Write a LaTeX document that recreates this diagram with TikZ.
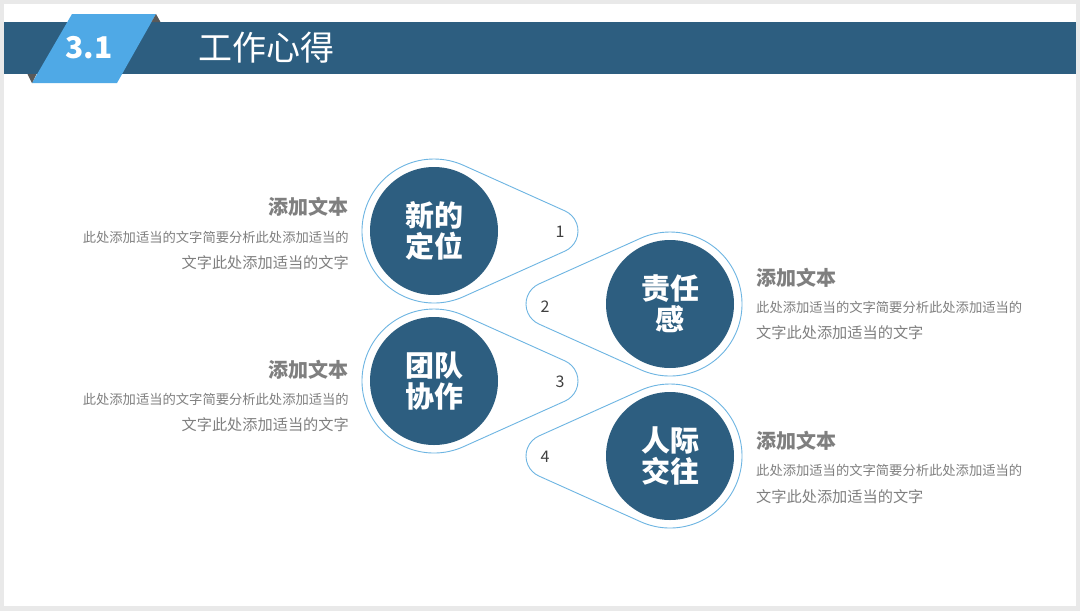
\documentclass[tikz,border=0pt]{standalone}
\usepackage{fontspec}
\newfontfamily\cjk{Noto Sans CJK SC}
\definecolor{darkblue}{HTML}{2D5E80}
\definecolor{lightblue}{HTML}{4FA9E6}
\definecolor{lineblue}{HTML}{6DB5E2}
\definecolor{txtgray}{HTML}{7F7F7F}
\definecolor{numgray}{HTML}{404040}
\definecolor{bggray}{HTML}{E9E9E9}
\tikzset{
  tear/.style={draw=lineblue, line width=0.9pt, fill=white},
  disc/.style={circle, fill=darkblue, minimum size=128pt, inner sep=0pt, text=white,
    font=\cjk\bfseries\fontsize{29}{31}\selectfont, align=center},
  numlab/.style={text=numgray, font=\cjk\fontsize{16}{18}\selectfont},
  headl/.style={text=txtgray, font=\cjk\bfseries\fontsize{20}{22}\selectfont, inner sep=0pt},
  bodyl/.style={text=txtgray, font=\cjk\fontsize{13.3}{16}\selectfont, inner sep=0pt},
  bodyll/.style={text=txtgray, font=\cjk\fontsize{15.2}{18}\selectfont, inner sep=0pt},
}
\newcommand\teardrop[3]{%
  \path[tear, shift={(#1,#2)}, xscale=#3]
    (65.81:72) arc[start angle=65.81, end angle=294.19, radius=72]
    -- ([shift={(122,0)}]-65.81:22) arc[start angle=-65.81, end angle=65.81, radius=22]
    -- cycle;}
\begin{document}
\begin{tikzpicture}[x=1pt,y=-1pt]
\useasboundingbox (0,0) rectangle (1080,611);
\fill[bggray] (0,0) rectangle (1080,611);
\fill[white] (4,4) rectangle (1076,606);
% header
\fill[darkblue] (4,22) rectangle (1076,74);
\fill[lightblue] (72,14) -- (156,14) -- (117,83) -- (32,83) -- cycle;
\fill[black!65] (156,14) -- (160.5,22) -- (151.5,22) -- cycle;
\fill[black!65] (32,83) -- (27.5,74) -- (36.5,74) -- cycle;
\node[text=white, font=\cjk\bfseries\fontsize{30}{32}\selectfont] (num) at (89,48) {3.1};
\node[text=white, font=\cjk\fontsize{34}{36}\selectfont, anchor=west, inner sep=0pt] (title) at (198,48) {工作心得};
% teardrops
\teardrop{670}{456}{-1}
\teardrop{434}{381}{1}
\teardrop{670}{304}{-1}
\teardrop{434}{231}{1}
% discs
\node[disc] (d1) at (434,231) {新的\\定位};
\node[disc] (d2) at (670,304) {责任\\感};
\node[disc] (d3) at (434,381) {团队\\协作};
\node[disc] (d4) at (670,456) {人际\\交往};
% numbers
\node[numlab] (n1) at (560,232) {1};
\node[numlab] (n2) at (545,307) {2};
\node[numlab] (n3) at (560,382) {3};
\node[numlab] (n4) at (545,457) {4};
% left texts
\node[headl, anchor=east] (h1) at (349,207) {添加文本};
\node[bodyl, anchor=east] (b1a) at (349,237) {此处添加适当的文字简要分析此处添加适当的};
\node[bodyll, anchor=east] (b1b) at (349,263) {文字此处添加适当的文字};
\node[headl, anchor=east] (h3) at (349,370) {添加文本};
\node[bodyl, anchor=east] (b3a) at (349,399) {此处添加适当的文字简要分析此处添加适当的};
\node[bodyll, anchor=east] (b3b) at (349,425) {文字此处添加适当的文字};
% right texts
\node[headl, anchor=west] (h2) at (756,278) {添加文本};
\node[bodyl, anchor=west] (b2a) at (756,307) {此处添加适当的文字简要分析此处添加适当的};
\node[bodyll, anchor=west] (b2b) at (756,333) {文字此处添加适当的文字};
\node[headl, anchor=west] (h4) at (756,441) {添加文本};
\node[bodyl, anchor=west] (b4a) at (756,470) {此处添加适当的文字简要分析此处添加适当的};
\node[bodyll, anchor=west] (b4b) at (756,497) {文字此处添加适当的文字};
\end{tikzpicture}
\end{document}
